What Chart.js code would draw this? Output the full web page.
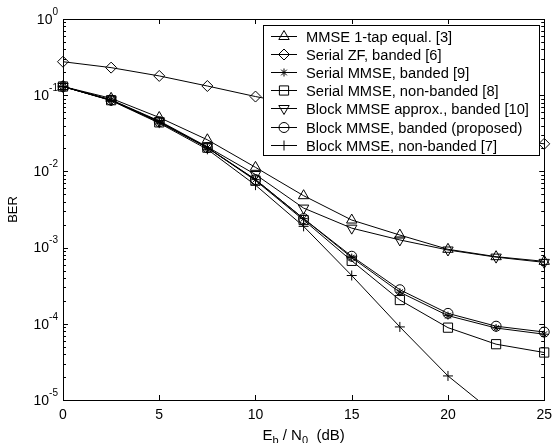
<!DOCTYPE html>
<html lang="en">
<head>
  <meta charset="UTF-8" />
  <title>BER vs Eb/N0</title>
  <script src="https://cdn.jsdelivr.net/npm/chart.js"></script>
  <style>
    body { margin: 0; background: #ffffff; }
    #berChart { display: block; }
  </style>
</head>
<body>
  <canvas id="berChart" width="559" height="443"></canvas>

  <script>
    // Eb/N0 in dB
    const ebn0 = [0, 2.5, 5, 7.5, 10, 12.5, 15, 17.5, 20, 22.5, 25];

    const mmse1Tap        = [0.13, 0.091, 0.051, 0.026, 0.0113, 0.0048, 0.0023, 0.00146, 0.00095, 0.00076, 0.00066];
    const serialZF        = [0.275, 0.23, 0.179, 0.132, 0.096, 0.073, 0.056, 0.044, 0.035, 0.028, 0.023];
    const serialMmseBand  = [0.13, 0.086, 0.045, 0.0205, 0.0078, 0.0024, 0.00074, 0.00026, 0.000128, 0.000088, 0.000073];
    const serialMmseFull  = [0.13, 0.086, 0.044, 0.0205, 0.0076, 0.0023, 0.00067, 0.000205, 0.000089, 0.000054, 0.000042];
    const blockApprox     = [0.13, 0.087, 0.046, 0.021, 0.0091, 0.0033, 0.0018, 0.00126, 0.00093, 0.00075, 0.00064];
    const blockBanded     = [0.13, 0.086, 0.045, 0.0205, 0.0078, 0.0024, 0.00077, 0.00028, 0.000137, 0.000093, 0.000078];
    const blockFull       = [0.13, 0.085, 0.043, 0.0195, 0.0066, 0.0019, 0.00043, 0.000091, 0.0000207, 0.0000064, null];

    const seriesNames = [
      'MMSE 1-tap equal. [3]',
      'Serial ZF, banded [6]',
      'Serial MMSE, banded [9]',
      'Serial MMSE, non-banded [8]',
      'Block MMSE approx., banded [10]',
      'Block MMSE, banded (proposed)',
      'Block MMSE, non-banded [7]'
    ];

    const xTicks = [0, 5, 10, 15, 20, 25];
    const yDecades = [1, 1e-1, 1e-2, 1e-3, 1e-4, 1e-5];

    const FONT = '"Liberation Sans", Arial, Helvetica, sans-serif';

    // marker look per series
    const markers = [
      { style: 'triangle', radius: 6, rotation: 0 },
      { style: 'rectRot', radius: 5.5, rotation: 0 },
      { style: 'star', radius: 4, rotation: 0 },
      { style: 'rect', radius: 6.5, rotation: 0 },
      { style: 'triangle', radius: 6, rotation: 180 },
      { style: 'circle', radius: 5, rotation: 0 },
      { style: 'cross', radius: 5, rotation: 0 }
    ];

    const allSeries = [mmse1Tap, serialZF, serialMmseBand, serialMmseFull, blockApprox, blockBanded, blockFull];

    const datasets = allSeries.map((vals, i) => ({
      label: seriesNames[i],
      data: ebn0.map((x, j) => ({ x: x, y: vals[j] })),
      borderColor: '#000',
      borderWidth: 1,
      backgroundColor: 'rgba(0,0,0,0)',
      pointStyle: markers[i].style,
      pointRadius: markers[i].radius,
      pointRotation: markers[i].rotation,
      pointBorderColor: '#000',
      pointBorderWidth: 1,
      pointBackgroundColor: 'rgba(0,0,0,0)',
      tension: 0,
      spanGaps: false,
      clip: { left: 10, right: 10, top: 10, bottom: 0 }
    }));

    const framePlugin = {
      id: 'frame',
      afterDraw(chart) {
        const ctx = chart.ctx;
        const a = chart.chartArea;
        const xs = chart.scales.x;
        const ys = chart.scales.y;
        ctx.save();
        ctx.strokeStyle = '#000';
        ctx.lineWidth = 1;

        // box
        ctx.strokeRect(Math.round(a.left) + 0.5, Math.round(a.top) + 0.5,
          Math.round(a.right - a.left), Math.round(a.bottom - a.top));

        // x ticks, inward on bottom and top
        ctx.beginPath();
        xTicks.forEach(v => {
          const px = Math.round(xs.getPixelForValue(v)) + 0.5;
          ctx.moveTo(px, a.bottom); ctx.lineTo(px, a.bottom - 5);
          ctx.moveTo(px, a.top); ctx.lineTo(px, a.top + 5);
        });
        // y ticks, major and minor
        yDecades.forEach(d => {
          const py = Math.round(ys.getPixelForValue(d)) + 0.5;
          ctx.moveTo(a.left, py); ctx.lineTo(a.left + 5, py);
          ctx.moveTo(a.right, py); ctx.lineTo(a.right - 5, py);
          if (d < 1) {
            for (let m = 2; m <= 9; m++) {
              const my = Math.round(ys.getPixelForValue(d * m)) + 0.5;
              ctx.moveTo(a.left, my); ctx.lineTo(a.left + 3, my);
              ctx.moveTo(a.right, my); ctx.lineTo(a.right - 3, my);
            }
          }
        });
        ctx.stroke();

        // y tick labels 10^k
        ctx.fillStyle = '#000';
        ctx.textBaseline = 'middle';
        ctx.textAlign = 'right';
        yDecades.forEach(d => {
          const py = ys.getPixelForValue(d);
          const exp = String(Math.round(Math.log10(d)));
          ctx.font = '10px ' + FONT;
          const ew = ctx.measureText(exp).width;
          ctx.fillText(exp, 58, py - 7);
          ctx.font = '14px ' + FONT;
          ctx.fillText('10', 58 - ew, py + 1);
        });

        // y title
        ctx.save();
        ctx.translate(13, (a.top + a.bottom) / 2);
        ctx.rotate(-Math.PI / 2);
        ctx.textAlign = 'center';
        ctx.font = '13px ' + FONT;
        ctx.fillText('BER', 0, 0);
        ctx.restore();

        // x title with subscripts
        const parts = [
          ['E', 15, 0], ['b', 11, 4], [' / N', 15, 0], ['0', 11, 4], ['  (dB)', 15, 0]
        ];
        ctx.textAlign = 'left';
        ctx.textBaseline = 'alphabetic';
        let total = 0;
        parts.forEach(p => { ctx.font = p[1] + 'px ' + FONT; total += ctx.measureText(p[0]).width; });
        let tx = (a.left + a.right) / 2 - total / 2;
        parts.forEach(p => {
          ctx.font = p[1] + 'px ' + FONT;
          ctx.fillText(p[0], tx, 440 + p[2]);
          tx += ctx.measureText(p[0]).width;
        });

        // legend
        const lx = 263, ly = 25, lw = 276, lh = 130;
        ctx.fillStyle = '#fff';
        ctx.fillRect(lx, ly, lw, lh);
        ctx.strokeRect(lx + 0.5, ly + 0.5, lw, lh);
        ctx.font = '14.7px ' + FONT;
        ctx.textBaseline = 'middle';
        chart.data.datasets.forEach((ds, i) => {
          const ry = Math.round(ly + 11 + i * 18.1) + 0.5;
          ctx.strokeStyle = '#000';
          ctx.beginPath();
          ctx.moveTo(271, ry); ctx.lineTo(297, ry);
          ctx.stroke();
          ctx.fillStyle = 'rgba(0,0,0,0)';
          Chart.helpers.drawPoint(ctx, {
            pointStyle: ds.pointStyle,
            radius: ds.pointRadius,
            rotation: ds.pointRotation,
            borderWidth: 1
          }, 284, ry);
          ctx.fillStyle = '#000';
          ctx.fillText(ds.label, 306, ry + 1);
        });
        ctx.restore();
      }
    };

    new Chart(document.getElementById('berChart').getContext('2d'), {
      type: 'line',
      data: { datasets: datasets },
      options: {
        responsive: false,
        animation: false,
        layout: { padding: { top: 19, right: 11, left: 0, bottom: 0 } },
        plugins: { legend: { display: false }, tooltip: { enabled: false } },
        scales: {
          x: {
            type: 'linear',
            min: 0,
            max: 25,
            grid: { display: false, drawTicks: false },
            border: { display: false },
            afterBuildTicks: s => { s.ticks = xTicks.map(v => ({ value: v })); },
            afterFit: s => { s.height = 43; },
            ticks: {
              color: '#000',
              padding: 7,
              maxRotation: 0,
              font: { family: FONT, size: 14 }
            }
          },
          y: {
            type: 'logarithmic',
            min: 1e-5,
            max: 1,
            grid: { display: false, drawTicks: false },
            border: { display: false },
            ticks: { display: false },
            afterFit: s => { s.width = 63; }
          }
        }
      },
      plugins: [framePlugin]
    });
  </script>
</body>
</html>
